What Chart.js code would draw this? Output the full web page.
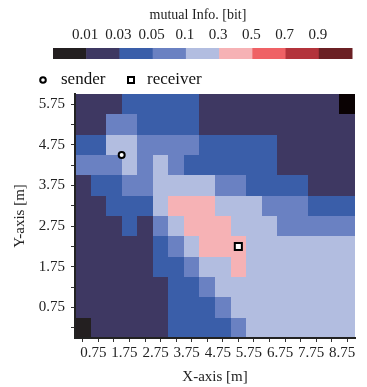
<!DOCTYPE html>
<html>
<head>
<meta charset="utf-8">
<script src="https://cdn.jsdelivr.net/npm/chart.js@4"></script>
<style>
  html, body { margin: 0; padding: 0; background: #fff; }
  #wrap { width: 367px; height: 387px; position: relative; }
</style>
</head>
<body>
<div id="wrap"><canvas id="grafico"></canvas></div>
<script>
// cell centres [m]
const xCells = [0.25, 0.75, 1.25, 1.75, 2.25, 2.75, 3.25, 3.75, 4.25, 4.75, 5.25, 5.75, 6.25, 6.75, 7.25, 7.75, 8.25, 8.75];
const yCells = [5.75, 5.25, 4.75, 4.25, 3.75, 3.25, 2.75, 2.25, 1.75, 1.25, 0.75, 0.25];

// mutual information [bit], one row per yCells entry (top to bottom); null = no data
const mutualInfo = [
  [0.02, 0.02, 0.02, 0.04, 0.04, 0.04, 0.04, 0.04, 0.02, 0.02, 0.02, 0.02, 0.02, 0.02, 0.02, 0.02, 0.02, null],
  [0.02, 0.02, 0.07, 0.07, 0.04, 0.04, 0.04, 0.04, 0.02, 0.02, 0.02, 0.02, 0.02, 0.02, 0.02, 0.02, 0.02, 0.02],
  [0.04, 0.04, 0.2,  0.2,  0.07, 0.07, 0.07, 0.07, 0.04, 0.04, 0.04, 0.04, 0.04, 0.02, 0.02, 0.02, 0.02, 0.02],
  [0.07, 0.07, 0.07, 0.2,  0.07, 0.2,  0.07, 0.04, 0.04, 0.04, 0.04, 0.04, 0.04, 0.02, 0.02, 0.02, 0.02, 0.02],
  [0.02, 0.04, 0.04, 0.07, 0.07, 0.2,  0.2,  0.2,  0.2,  0.07, 0.07, 0.04, 0.04, 0.04, 0.04, 0.02, 0.02, 0.02],
  [0.02, 0.02, 0.04, 0.04, 0.04, 0.2,  0.4,  0.4,  0.4,  0.2,  0.2,  0.2,  0.07, 0.07, 0.07, 0.04, 0.04, 0.04],
  [0.02, 0.02, 0.02, 0.04, 0.02, 0.07, 0.2,  0.4,  0.4,  0.4,  0.2,  0.2,  0.2,  0.07, 0.07, 0.07, 0.07, 0.07],
  [0.02, 0.02, 0.02, 0.02, 0.02, 0.04, 0.07, 0.2,  0.4,  0.4,  0.4,  0.2,  0.2,  0.2,  0.2,  0.2,  0.2,  0.2],
  [0.02, 0.02, 0.02, 0.02, 0.02, 0.04, 0.04, 0.07, 0.2,  0.2,  0.4,  0.2,  0.2,  0.2,  0.2,  0.2,  0.2,  0.2],
  [0.02, 0.02, 0.02, 0.02, 0.02, 0.02, 0.04, 0.04, 0.07, 0.2,  0.2,  0.2,  0.2,  0.2,  0.2,  0.2,  0.2,  0.2],
  [0.02, 0.02, 0.02, 0.02, 0.02, 0.02, 0.04, 0.04, 0.04, 0.07, 0.2,  0.2,  0.2,  0.2,  0.2,  0.2,  0.2,  0.2],
  [0.005, 0.02, 0.02, 0.02, 0.02, 0.02, 0.04, 0.04, 0.04, 0.04, 0.07, 0.2, 0.2,  0.2,  0.2,  0.2,  0.2,  0.2]
];

// colour scale
const levelBounds = [0.01, 0.03, 0.05, 0.1, 0.3, 0.5, 0.7, 0.9];
const levelLabels = ['0.01', '0.03', '0.05', '0.1', '0.3', '0.5', '0.7', '0.9'];
const levelColors = ['#231f20', '#3e3862', '#3a5ea9', '#6a81c2', '#b2bde0', '#f6b2b5', '#ef6165', '#b3333b', '#6b2024'];
const noDataColor = '#0a0203';

const senderPos = [{ x: 1.5, y: 4.5 }];
const receiverPos = [{ x: 5.25, y: 2.25 }];

const xTicks = [0.25, 0.75, 1.25, 1.75, 2.25, 2.75, 3.25, 3.75, 4.25, 4.75, 5.25, 5.75, 6.25, 6.75, 7.25, 7.75, 8.25, 8.75];
const yTicks = [0.25, 0.75, 1.25, 1.75, 2.25, 2.75, 3.25, 3.75, 4.25, 4.75, 5.25, 5.75];

const serif = '"Liberation Serif", "Times New Roman", serif';
const cellHalf = 0.25;

function corDoValor(v) {
    if (v === null) return noDataColor;
    let k = 0;
    while (k < levelBounds.length && v >= levelBounds[k]) k++;
    return levelColors[k];
}

function rotulo(v) {
    return Math.abs((v - 0.75) % 1) < 1e-6 ? v.toFixed(2) : '';
}

const celulas = {
    id: 'celulas',
    beforeDatasetsDraw(chart) {
        const { ctx, chartArea, scales: { x, y } } = chart;
        ctx.save();
        ctx.beginPath();
        ctx.rect(chartArea.left, chartArea.top, chartArea.width, chartArea.height);
        ctx.clip();
        mutualInfo.forEach((linha, j) => {
            linha.forEach((v, i) => {
                const x0 = Math.round(x.getPixelForValue(xCells[i] - cellHalf));
                const x1 = Math.round(x.getPixelForValue(xCells[i] + cellHalf));
                const y0 = Math.round(y.getPixelForValue(yCells[j] - cellHalf));
                const y1 = Math.round(y.getPixelForValue(yCells[j] + cellHalf));
                ctx.fillStyle = corDoValor(v);
                ctx.fillRect(x0, y1, x1 - x0, y0 - y1);
            });
        });
        ctx.restore();
    }
};

// colour bar + sender/receiver legend above the map
const barraDeCores = {
    id: 'barraDeCores',
    afterDraw(chart) {
        const ctx = chart.ctx;
        const left = 53, right = 352, top = 48, h = 11;
        const w = (right - left) / levelColors.length;
        ctx.save();
        levelColors.forEach((c, k) => {
            ctx.fillStyle = c;
            ctx.fillRect(left + k * w, top, w + 0.5, h);
        });
        ctx.fillStyle = '#222';
        ctx.textAlign = 'center';
        ctx.textBaseline = 'middle';
        ctx.font = '14px ' + serif;
        ctx.fillText('mutual Info. [bit]', 198, 15);
        ctx.font = '15px ' + serif;
        levelLabels.forEach((t, k) => {
            ctx.fillText(t, left + (k + 1) * w - 1, 35);
        });

        // legend
        ctx.lineWidth = 2;
        ctx.strokeStyle = '#000';
        ctx.fillStyle = '#fff';
        ctx.beginPath();
        ctx.arc(43, 80, 2.8, 0, Math.PI * 2);
        ctx.fill();
        ctx.stroke();
        ctx.fillRect(128, 77, 6, 6);
        ctx.strokeRect(128, 77, 6, 6);
        ctx.fillStyle = '#111';
        ctx.textAlign = 'left';
        ctx.font = '17px ' + serif;
        ctx.fillText('sender', 61, 80);
        ctx.fillText('receiver', 147, 80);
        ctx.restore();
    }
};

function main() {
    const ctx = document.getElementById('grafico').getContext('2d');
    window.mapa = new Chart(ctx, {
        type: 'scatter',
        data: {
            datasets: [
                {
                    label: 'sender',
                    data: senderPos,
                    pointStyle: 'circle',
                    pointRadius: 3,
                    pointBackgroundColor: '#fff',
                    pointBorderColor: '#000',
                    pointBorderWidth: 2
                },
                {
                    label: 'receiver',
                    data: receiverPos,
                    pointStyle: 'rect',
                    pointRadius: 5,
                    pointBackgroundColor: '#fff',
                    pointBorderColor: '#000',
                    pointBorderWidth: 2
                }
            ]
        },
        options: {
            animation: false,
            responsive: true,
            maintainAspectRatio: false,
            layout: { padding: { top: 94, right: 12, left: 0, bottom: 0 } },
            plugins: {
                legend: { display: false },
                tooltip: { enabled: false }
            },
            scales: {
                x: {
                    type: 'linear',
                    min: 0,
                    max: 9,
                    afterFit: (s) => { s.height = 49; },
                    afterBuildTicks: (s) => { s.ticks = xTicks.map(v => ({ value: v })); },
                    ticks: {
                        callback: rotulo,
                        autoSkip: false,
                        maxRotation: 0,
                        padding: 2,
                        labelOffset: -5,
                        color: '#222',
                        font: { family: serif, size: 15 }
                    },
                    grid: { drawOnChartArea: false, tickLength: 4, color: '#333', tickWidth: 1 },
                    border: { display: true, color: '#222', width: 2, z: 1 },
                    title: {
                        display: true,
                        text: 'X-axis [m]',
                        color: '#222',
                        font: { family: serif, size: 15 },
                        padding: { top: 0, bottom: 1 }
                    }
                },
                y: {
                    type: 'linear',
                    min: 0,
                    max: 6,
                    afterFit: (s) => { s.width = 75; },
                    afterBuildTicks: (s) => { s.ticks = yTicks.map(v => ({ value: v })); },
                    ticks: {
                        callback: rotulo,
                        autoSkip: false,
                        padding: 6,
                        color: '#222',
                        font: { family: serif, size: 15 }
                    },
                    grid: { drawOnChartArea: false, tickLength: 4, color: '#333', tickWidth: 1 },
                    border: { display: true, color: '#222', width: 2, z: 1 },
                    title: {
                        display: true,
                        text: 'Y-axis [m]',
                        color: '#222',
                        font: { family: serif, size: 15 },
                        padding: { top: 11, bottom: 0 }
                    }
                }
            }
        },
        plugins: [celulas, barraDeCores]
    });
}

window.addEventListener('DOMContentLoaded', main);
</script>
</body>
</html>
